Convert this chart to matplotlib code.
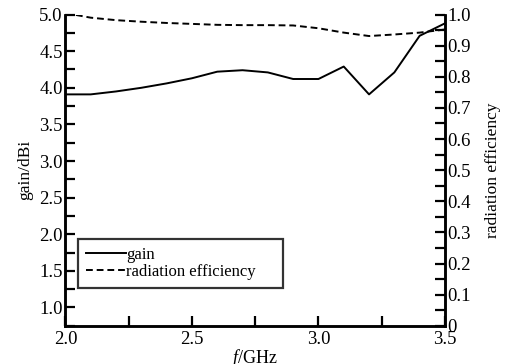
import matplotlib.pyplot as plt
from matplotlib.ticker import MultipleLocator

plt.rcParams['font.family'] = ['Liberation Serif', 'DejaVu Serif']
plt.rcParams['mathtext.fontset'] = 'custom'
plt.rcParams['mathtext.it'] = 'Liberation Serif:italic'
plt.rcParams['mathtext.rm'] = 'Liberation Serif'

freq = [2.0, 2.1, 2.2, 2.3, 2.4, 2.5, 2.6, 2.7, 2.8, 2.9, 3.0, 3.1, 3.2, 3.3, 3.4, 3.5]
gain = [3.91, 3.91, 3.95, 4.0, 4.06, 4.13, 4.22, 4.24, 4.21, 4.12, 4.12, 4.29, 3.91, 4.21, 4.71, 4.88]
efficiency = [1.005, 0.99, 0.982, 0.977, 0.973, 0.97, 0.967, 0.966, 0.966, 0.965, 0.956, 0.942, 0.931, 0.936, 0.942, 0.952]

fig, ax = plt.subplots(figsize=(5.15, 3.64), dpi=100)
fig.subplots_adjust(left=0.127, right=0.864, top=0.96, bottom=0.105)
ax2 = ax.twinx()

l1, = ax.plot(freq, gain, color='black', lw=1.4, label='gain')
l2, = ax2.plot(freq, efficiency, color='black', lw=1.4, ls=(0, (3.5, 2)), label='radiation efficiency')

ax.set_xlim(2.0, 3.5)
ax.set_ylim(0.75, 5.0)
ax2.set_ylim(0, 1.0)

ax.xaxis.set_minor_locator(MultipleLocator(0.25))
ax.yaxis.set_major_locator(MultipleLocator(0.5))
ax.yaxis.set_minor_locator(MultipleLocator(0.25))
ax2.yaxis.set_minor_locator(MultipleLocator(0.05))
ax.set_xticks([2.0, 2.5, 3.0, 3.5], ['2.0', '2.5', '3.0', '3.5'])
ax2.set_yticks([0, 0.1, 0.2, 0.3, 0.4, 0.5, 0.6, 0.7, 0.8, 0.9, 1.0],
               ['0', '0.1', '0.2', '0.3', '0.4', '0.5', '0.6', '0.7', '0.8', '0.9', '1.0'])

for a in (ax, ax2):
    a.spines['top'].set_visible(False)
    for s in a.spines.values():
        s.set_linewidth(1.8)
    a.tick_params(which='both', direction='in', width=1.6, length=7.5,
                  labelsize=13.5, top=False)
ax.tick_params(axis='y', right=False, pad=2)
ax2.tick_params(axis='y', pad=2)
ax.tick_params(axis='x', pad=4)

ax.set_ylabel('gain/dBi', fontsize=12.5, labelpad=4)
ax2.set_ylabel('radiation efficiency', fontsize=12.5, labelpad=10)
ax.set_xlabel('$f$/GHz', fontsize=13, labelpad=-1)

leg = ax.legend(handles=[l1, l2], loc='lower left', mode='expand',
                bbox_to_anchor=(0.034, 0.122, 0.54, 0.142),
                fontsize=12, frameon=True, fancybox=False, handlelength=2.4,
                handletextpad=0.0, borderpad=0.45, labelspacing=0.1, borderaxespad=0)
leg.get_frame().set_edgecolor('black')
leg.get_frame().set_linewidth(1.6)

plt.savefig('out.png')
